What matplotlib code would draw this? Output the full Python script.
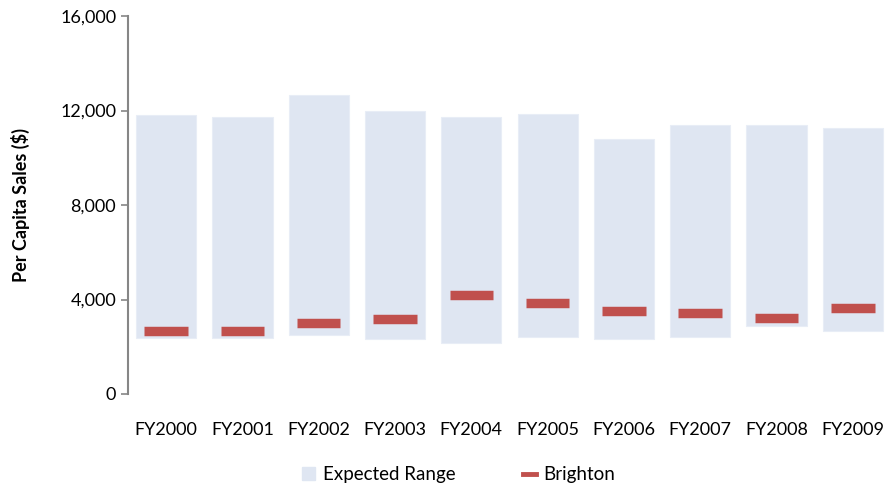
import matplotlib.pyplot as plt
from matplotlib.patches import Patch
from matplotlib.lines import Line2D

years = ["FY2000", "FY2001", "FY2002", "FY2003", "FY2004",
         "FY2005", "FY2006", "FY2007", "FY2008", "FY2009"]
range_low = [2390, 2390, 2510, 2310, 2160, 2410, 2310, 2410, 2860, 2680]
range_high = [11830, 11730, 12650, 11980, 11720, 11870, 10800, 11380, 11380, 11270]
brighton = [2660, 2660, 3010, 3170, 4170, 3860, 3520, 3420, 3230, 3620]

plt.rcParams['font.family'] = ['Lato', 'DejaVu Sans']

fig = plt.figure(figsize=(8.94, 4.87), dpi=100)
ax = fig.add_axes([0.1432, 0.191, 0.8534, 0.776])

x = list(range(len(years)))
heights = [h - l for h, l in zip(range_high, range_low)]
ax.bar(x, heights, bottom=range_low, width=0.79, color='#DFE6F2',
       edgecolor='#E8EDF6', linewidth=0.8, zorder=1)
ax.hlines(brighton, [i - 0.285 for i in x], [i + 0.285 for i in x],
          color='#C0504D', linewidth=6.8, zorder=2)

ax.set_xlim(-0.5, 9.5)
ax.set_ylim(0, 16000)
ax.set_yticks([0, 4000, 8000, 12000, 16000])
ax.set_yticklabels(["0", "4,000", "8,000", "12,000", "16,000"])
ax.set_xticks(x)
ax.set_xticklabels(years)
ax.tick_params(axis='y', labelsize=13, color='#868686', length=5, width=1.2)
ax.tick_params(axis='x', labelsize=13, length=0, pad=20)
ax.set_ylabel("Per Capita Sales ($)", fontsize=13, fontweight='bold', labelpad=22)

for s in ['top', 'right', 'bottom']:
    ax.spines[s].set_visible(False)
ax.spines['left'].set_color('#868686')
ax.spines['left'].set_linewidth(1.5)

handles = [Patch(facecolor='#DFE6F2', edgecolor='#DFE6F2'),
           Line2D([0], [0], color='#C0504D', linewidth=3.5)]
fig.legend(handles, ["Expected Range", "Brighton"], loc='center',
           bbox_to_anchor=(0.513, 0.025), ncol=2, frameon=False,
           fontsize=13.5, columnspacing=3.6, handlelength=0.7, handletextpad=0.4)

fig.savefig("out.png", dpi=100)
